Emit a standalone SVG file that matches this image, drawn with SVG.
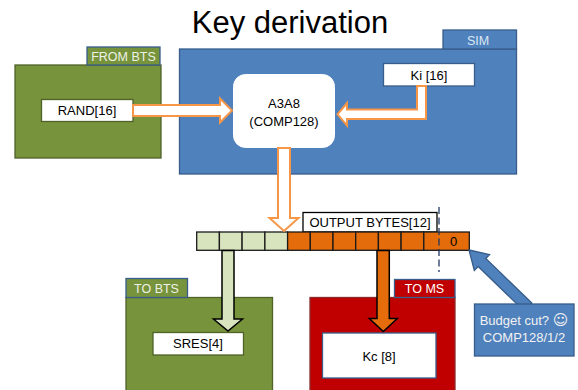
<svg xmlns="http://www.w3.org/2000/svg" width="578" height="390" viewBox="0 0 578 390">
<style>
text{font-family:"Liberation Sans","DejaVu Sans",sans-serif;font-size:13px;fill:#000;text-anchor:middle}
.green{fill:#77933c;stroke:#4f6228;stroke-width:1.3}
.gtab{fill:#77933c;stroke:#385d8a;stroke-width:1.3}
.blue{fill:#4f81bd;stroke:#385d8a;stroke-width:1.3}
.red{fill:#c00000;stroke:#8c2a2a;stroke-width:1.3}
.rtab{fill:#c00000;stroke:#385d8a;stroke-width:1.3}
.wbox{fill:#fff;stroke:#4f6228;stroke-width:1.3}
.wboxb{fill:#fff;stroke:#385d8a;stroke-width:1.3}
.tab{fill:#eef2e6;font-size:12.5px}
.oarrow{fill:#fff;stroke:#f79646;stroke-width:2}
.gc{fill:#d7e4bd;stroke:#1a1a1a;stroke-width:1.3}
.oc{fill:#e46c0a;stroke:#1a1a1a;stroke-width:1.3}
</style>
<text x="290" y="33" style="font-size:31px">Key derivation</text>

<g id="from-bts">
<rect class="green" x="15" y="65" width="146" height="93"/>
<rect class="gtab" x="87" y="47" width="73" height="18"/>
<text class="tab" x="123.5" y="60.5">FROM BTS</text>
<rect class="wbox" x="41.5" y="99.5" width="91.5" height="22"/>
<text x="87" y="115">RAND[16]</text>
</g>

<g id="sim">
<rect class="blue" x="179.5" y="49" width="337" height="125"/>
<rect class="blue" x="443" y="30" width="73.5" height="19"/>
<text class="tab" x="478" y="44.5" style="fill:#dce6f2">SIM</text>
<rect x="233.5" y="74.5" width="101" height="73" rx="12" fill="#fff" stroke="#fff"/>
<text x="284" y="107.5">A3A8</text>
<text x="284" y="126">(COMP128)</text>
<rect class="wboxb" x="383.5" y="63.5" width="91" height="22.5"/>
<text x="429" y="80">Ki [16]</text>
</g>

<g id="output-bytes">
<rect x="303" y="212.5" width="134" height="19.5" fill="#fff" stroke="#000" stroke-width="1.3"/>
<text x="370" y="226.5">OUTPUT BYTES[12]</text>
<rect class="gc" x="196.7" y="232" width="22.7" height="18.3"/>
<rect class="gc" x="219.4" y="232" width="22.7" height="18.3"/>
<rect class="gc" x="242.1" y="232" width="22.8" height="18.3"/>
<rect class="gc" x="264.9" y="232" width="22.7" height="18.3"/>
<rect class="oc" x="287.6" y="232" width="22.7" height="18.3"/>
<rect class="oc" x="310.3" y="232" width="22.7" height="18.3"/>
<rect class="oc" x="333" y="232" width="22.7" height="18.3"/>
<rect class="oc" x="355.7" y="232" width="22.7" height="18.3"/>
<rect class="oc" x="378.4" y="232" width="22.7" height="18.3"/>
<rect class="oc" x="401.1" y="232" width="22.7" height="18.3"/>
<rect class="oc" x="423.8" y="232" width="45.5" height="18.3"/>
<text x="453.5" y="246">0</text>
<line x1="439" y1="207" x2="439" y2="272" stroke="#1f3864" stroke-width="1.3" stroke-dasharray="7,3.5"/>
</g>

<g id="to-bts">
<rect class="green" x="126" y="297.5" width="146.5" height="95"/>
<rect class="gtab" x="126" y="278.5" width="61.5" height="19"/>
<text class="tab" x="156.5" y="292.5">TO BTS</text>
<rect class="wbox" x="153" y="332.5" width="90.5" height="22.5"/>
<text x="198" y="348">SRES[4]</text>
</g>

<g id="to-ms">
<rect class="red" x="310" y="297.5" width="145" height="95"/>
<rect class="rtab" x="394.5" y="279.5" width="60.5" height="18"/>
<text class="tab" x="424.5" y="293" style="fill:#fff">TO MS</text>
<rect class="wboxb" x="322.5" y="333" width="113.5" height="45"/>
<text x="379" y="361">Kc [8]</text>
</g>

<g id="connectors">
<polygon class="oarrow" points="133,105 220,105 220,98.5 232,110.5 220,122.5 220,116 133,116"/>
<polygon class="oarrow" points="417,86 426,86 426,119 347,119 347,125.5 337.5,114.3 347,103 347,109.5 417,109.5"/>
<polygon class="oarrow" points="278,148 290,148 290,218 298.5,218 284,231 269.5,218 278,218"/>
<polygon points="222,250.5 234,250.5 234,319 242.5,319 228,331 213.5,319 222,319" fill="#d7e4bd" stroke="#000" stroke-width="1.5"/>
<polygon points="377,250.5 389.3,250.5 389.3,318.5 397.3,318.5 383.3,331.5 369.3,318.5 377,318.5" fill="#e46c0a" stroke="#000" stroke-width="1.5"/>
<polygon transform="translate(469,250) rotate(44)" points="0,0 18,-11 18,-5.5 82,-5.5 82,5.5 18,5.5 18,11" fill="#4f81bd" stroke="#385d8a" stroke-width="1.3"/>
</g>

<g id="budget-cut">
<rect class="blue" x="474.5" y="304" width="99.5" height="52"/>
<text x="524" y="325" style="fill:#f2f2f2">Budget cut? <tspan style="font-family:'DejaVu Sans',sans-serif;font-size:15px">☺</tspan></text>
<text x="524" y="342" style="fill:#f2f2f2">COMP128/1/2</text>
</g>
</svg>
